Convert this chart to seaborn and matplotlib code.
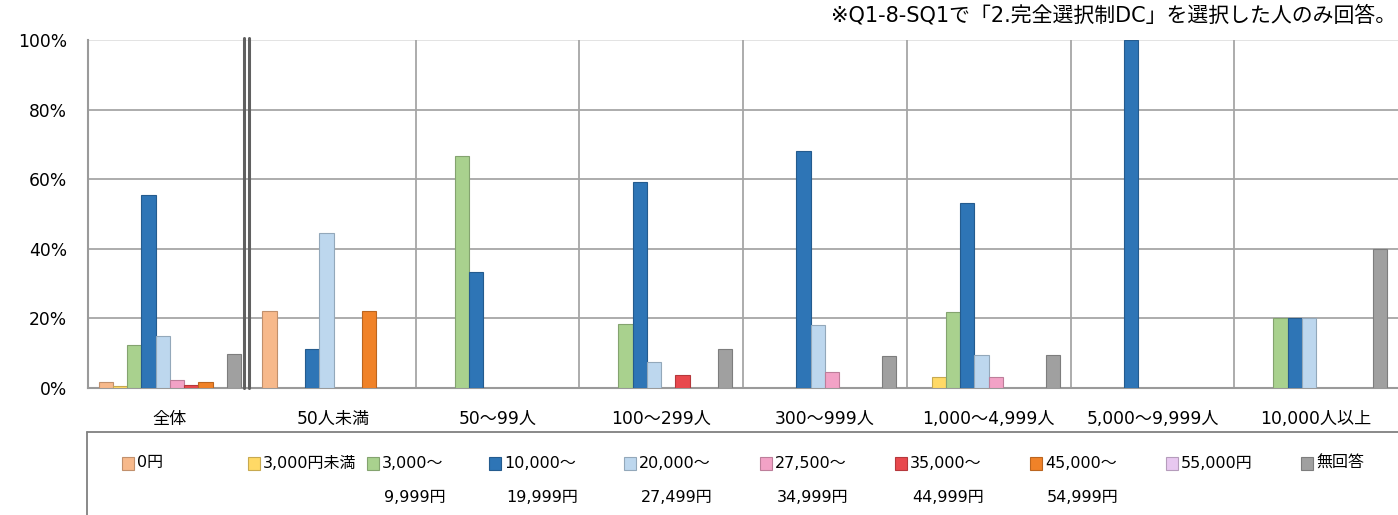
import pandas as pd
import seaborn as sns
import matplotlib.pyplot as plt
from matplotlib.patches import Rectangle
from matplotlib.lines import Line2D
from matplotlib.colors import to_rgb

categories = ["全体", "50人未満", "50～99人", "100～299人", "300～999人",
              "1,000～4,999人", "5,000～9,999人", "10,000人以上"]
series = ["0円", "3,000円未満", "3,000～9,999円", "10,000～19,999円",
          "20,000～27,499円", "27,500～34,999円", "35,000～44,999円",
          "45,000～54,999円", "55,000円", "無回答"]
legend_line1 = ["0円", "3,000円未満", "3,000～", "10,000～", "20,000～",
                "27,500～", "35,000～", "45,000～", "55,000円", "無回答"]
legend_line2 = ["", "", "9,999円", "19,999円", "27,499円",
                "34,999円", "44,999円", "54,999円", "", ""]

v_0 = [1.6, 22.2, 0, 0, 0, 0, 0, 0]
v_under3000 = [0.6, 0, 0, 0, 0, 3.1, 0, 0]
v_3000 = [12.4, 0, 66.7, 18.5, 0, 21.9, 0, 20.0]
v_10000 = [55.4, 11.1, 33.3, 59.3, 68.2, 53.1, 100.0, 20.0]
v_20000 = [14.9, 44.4, 0, 7.4, 18.2, 9.4, 0, 20.0]
v_27500 = [2.4, 0, 0, 0, 4.5, 3.1, 0, 0]
v_35000 = [0.8, 0, 0, 3.7, 0, 0, 0, 0]
v_45000 = [1.6, 22.2, 0, 0, 0, 0, 0, 0]
v_55000 = [0, 0, 0, 0, 0, 0, 0, 0]
v_none = [9.9, 0, 0, 11.1, 9.1, 9.4, 0, 40.0]

colors = ["#F7B98B", "#FFD966", "#A9D18E", "#2E75B6", "#BDD7EE",
          "#F2A2C6", "#E8484D", "#F08228", "#E8C8F0", "#A0A0A0"]

values = [v_0, v_under3000, v_3000, v_10000, v_20000,
          v_27500, v_35000, v_45000, v_55000, v_none]

rows = []
for s, vals in zip(series, values):
    for c, v in zip(categories, vals):
        rows.append({"size": c, "item": s, "pct": v})
df = pd.DataFrame(rows)

sns.set_style("white")
plt.rcParams["font.family"] = ["DejaVu Sans", "Noto Sans CJK JP"]
plt.rcParams["text.color"] = "black"
plt.rcParams["xtick.color"] = "black"
plt.rcParams["ytick.color"] = "black"

W, H = 1398, 515
fig = plt.figure(figsize=(W / 100, H / 100), dpi=100)
ax = fig.add_axes([88 / W, 127 / H, 1 - 88 / W, 348 / H])

sns.barplot(data=df, x="size", y="pct", hue="item", order=categories,
            hue_order=series, palette=colors, saturation=1, width=0.87,
            errorbar=None, legend=False, ax=ax, zorder=3)

for cont, col in zip(ax.containers, colors):
    dark = tuple(c * 0.78 for c in to_rgb(col))
    for bar in cont:
        if bar.get_height() == 0:
            bar.set_visible(False)
        else:
            bar.set_edgecolor(dark)
            bar.set_linewidth(0.8)

ax.set_xlim(-0.5, len(categories) - 0.5)
ax.set_ylim(0, 100)
ax.set_yticks([0, 20, 40, 60, 80, 100])
ax.set_yticklabels([f"{t}%" for t in [0, 20, 40, 60, 80, 100]], fontsize=12.3)
ax.set_xlabel("")
ax.set_ylabel("")
ax.tick_params(axis="x", length=0, pad=16, labelsize=12.3)
ax.tick_params(axis="y", length=0, pad=15)

for y in [20, 40, 60, 80]:
    ax.axhline(y, color="#A6A6A6", lw=1.3, zorder=1)
ax.axhline(100, color="#E0E0E0", lw=1.3, zorder=1)
for x in range(1, len(categories)):
    if x == 1:
        for off in (-0.047, -0.017):
            ax.axvline(x - 0.5 + off, color="#606060", lw=2.2, zorder=4,
                       ymax=1.006, clip_on=False)
    else:
        ax.axvline(x - 0.5, color="#A6A6A6", lw=1.3, zorder=1)

for side in ["top", "right"]:
    ax.spines[side].set_visible(False)
for side in ["left", "bottom"]:
    ax.spines[side].set_color("#9A9A9A")
    ax.spines[side].set_linewidth(1.5)

fig.text(0.999, 1 - 15 / H, "※Q1-8-SQ1で「2.完全選択制DC」を選択した人のみ回答。",
         ha="right", va="center", fontsize=15)

# legend box
box_top = 1 - 432 / H
fig.add_artist(Line2D([87 / W, 87 / W], [0, box_top], color="#808080", lw=1.3))
fig.add_artist(Line2D([87 / W, 1.0], [box_top, box_top], color="#808080", lw=1.3))

legend_x = [122, 248, 367, 489, 624, 760, 895, 1030, 1166, 1301]
for x, l1, l2, col in zip(legend_x, legend_line1, legend_line2, colors):
    fig.add_artist(Rectangle((x / W, 1 - 470 / H), 12 / W, 13 / H,
                             facecolor=col,
                             edgecolor=tuple(c * 0.78 for c in to_rgb(col)),
                             lw=0.8, transform=fig.transFigure))
    fig.text((x + 15) / W, 1 - 463 / H, l1, ha="left", va="center", fontsize=11.5)
    if l2:
        fig.text((x + 17) / W, 1 - 497 / H, l2, ha="left", va="center", fontsize=11.5)

fig.savefig("out.png", dpi=100)
